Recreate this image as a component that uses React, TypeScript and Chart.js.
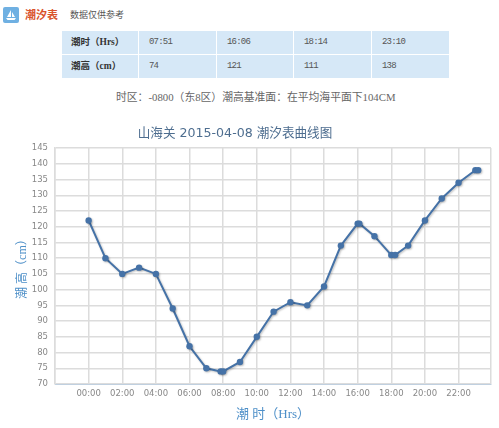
import React, { useEffect, useRef } from "react";
import { Chart, registerables } from "chart.js";

Chart.register(...registerables);

const hours = [0, 1, 2, 3, 4, 5, 6, 7, 7.85, 8, 9, 10, 11, 12, 13, 14, 15, 16, 16.1, 17, 18, 18.23, 19, 20, 21, 22, 23, 23.17];
const heights = [122, 110, 105, 107, 105, 94, 82, 75, 74, 74, 77, 85, 93, 96, 95, 101, 114, 121, 121, 117, 111, 111, 114, 122, 129, 134, 138, 138];
const rowTime = ["潮时（Hrs）", "07:51", "16:06", "18:14", "23:10"];
const rowHeight = ["潮高（cm）", "74", "121", "111", "138"];
const chartTitle = "山海关 2015-04-08 潮汐表曲线图";
const xTitle = "潮 时（Hrs）";
const yTitle = "潮 高（cm）";
const note = "时区：-0800（东8区）潮高基准面：在平均海平面下104CM";

const cjk = '"Noto Sans CJK SC"';
const fontAxis = `"DejaVu Sans", ${cjk}`;
const colW = [76, 77, 76, 77, 77];

const shadow = {
  id: "lineShadow",
  beforeDatasetDraw(c: any) {
    c.ctx.save();
    c.ctx.shadowColor = "rgba(0,0,0,0.25)";
    c.ctx.shadowBlur = 2;
    c.ctx.shadowOffsetX = 1;
    c.ctx.shadowOffsetY = 1;
  },
  afterDatasetDraw(c: any) {
    c.ctx.restore();
  },
};

function pad(h: number) {
  return String(h).padStart(2, "0") + ":00";
}

function TableRow({ cells, top }: { cells: string[]; top: number }) {
  let left = 62;
  return (
    <>
      {cells.map((t, i) => {
        const l = left;
        left += colW[i] + 1;
        return (
          <div
            key={i}
            style={{
              position: "absolute",
              left: l,
              top,
              width: colW[i],
              height: 23,
              background: "#d6e8f7",
              lineHeight: "23px",
              paddingLeft: i === 0 ? 9 : 10,
              boxSizing: "border-box",
              fontFamily: i === 0 ? `"Liberation Serif", ${cjk}` : '"Liberation Mono", monospace',
              fontSize: i === 0 ? 9.5 : 9,
              letterSpacing: i === 0 ? 0 : -0.8,
              fontWeight: i === 0 ? 700 : 400,
              color: i === 0 ? "#333" : "#555",
              whiteSpace: "nowrap",
            }}
          >
            {t}
          </div>
        );
      })}
    </>
  );
}

export default function App() {
  const ref = useRef<HTMLCanvasElement>(null);
  useEffect(() => {
    const chart = new Chart(ref.current!, {
      type: "line",
      data: {
        datasets: [
          {
            data: hours.map((h, i) => ({ x: h, y: heights[i] })),
            borderColor: "#4572a7",
            backgroundColor: "#4572a7",
            borderWidth: 2,
            pointRadius: 3.2,
            pointBorderWidth: 0,
            tension: 0,
          },
        ],
      },
      plugins: [shadow],
      options: {
        animation: false,
        responsive: false,
        layout: { padding: { left: 0, right: 8, top: 0, bottom: 0 } },
        plugins: {
          legend: { display: false },
          tooltip: { enabled: false },
          title: {
            display: true,
            text: chartTitle,
            color: "#4d6d8f",
            font: { family: fontAxis, size: 12.6, weight: "normal" },
            padding: { top: 8, bottom: 7 },
          },
        },
        scales: {
          x: {
            type: "linear",
            min: -2,
            max: 23.93,
            afterBuildTicks(s: any) {
              const t: any[] = [];
              for (let v = -2; v <= 22; v += 2) t.push({ value: v });
              t.push({ value: 23.93 });
              s.ticks = t;
            },
            afterFit(s: any) {
              s.height = 38;
            },
            grid: { color: "#dcdcdc", lineWidth: 1.5, drawTicks: false },
            border: { color: "#c0d0e0", width: 1 },
            ticks: {
              autoSkip: false,
              maxRotation: 0,
              padding: 5,
              color: "#888",
              font: { family: fontAxis, size: 8.5 },
              callback: (v: any) => (v >= 0 && Number.isInteger(v) ? pad(v) : ""),
            },
            title: {
              display: true,
              text: xTitle,
              color: "#4d8fc8",
              font: { family: `"Liberation Serif", ${cjk}`, size: 13 },
              padding: { top: 5, bottom: 0 },
            },
          },
          y: {
            type: "linear",
            min: 70,
            max: 145,
            afterFit(s: any) {
              s.width = 76;
            },
            grid: { color: "#dcdcdc", lineWidth: 1.5, drawTicks: false },
            border: { color: "#dcdcdc", width: 1.5 },
            ticks: {
              stepSize: 5,
              padding: 7,
              color: "#888",
              font: { family: fontAxis, size: 8.5 },
            },
            title: {
              display: true,
              text: yTitle,
              color: "#4d8fc8",
              font: { family: `"Liberation Serif", ${cjk}`, size: 12 },
              padding: { top: 37, bottom: 0 },
            },
          },
        },
      } as any,
    });
    return () => chart.destroy();
  }, []);

  return (
    <div style={{ position: "absolute", left: 0, top: 0, width: 499, height: 428, background: "#fff", overflow: "hidden", fontFamily: cjk }}>
      <svg width="16" height="16" viewBox="0 0 16 16" style={{ position: "absolute", left: 3, top: 7 }}>
        <rect width="16" height="16" rx="2" fill="#6fb0e2" />
        <path d="M8 3 L8 10 L4 10 Z M9 5 L12 10 L9 10 Z M3 11 L13 11 L11.5 13 L4.5 13 Z" fill="#fff" />
      </svg>
      <div style={{ position: "absolute", left: 25, top: 6, fontSize: 11, lineHeight: "17px", fontWeight: 700, color: "#d9532c", whiteSpace: "nowrap" }}>潮汐表</div>
      <div style={{ position: "absolute", left: 70, top: 7, fontSize: 9, lineHeight: "16px", color: "#555", whiteSpace: "nowrap" }}>数据仅供参考</div>
      <TableRow cells={rowTime} top={31} />
      <TableRow cells={rowHeight} top={55} />
      <div style={{ position: "absolute", left: 116, top: 88, fontSize: 10.8, lineHeight: "18px", fontFamily: `"Liberation Serif", ${cjk}`, color: "#666", whiteSpace: "nowrap" }}>{note}</div>
      <canvas ref={ref} width={520} height={304} style={{ position: "absolute", left: -21, top: 118, display: "block" }} />
    </div>
  );
}
